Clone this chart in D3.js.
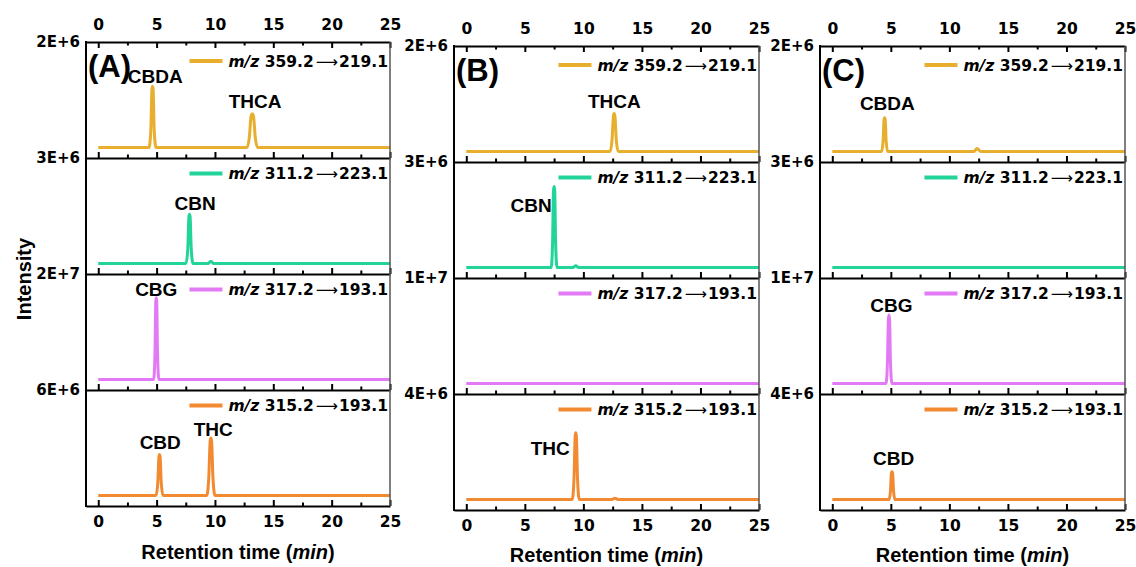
<!DOCTYPE html>
<html>
<head>
<meta charset="utf-8">
<script src="https://cdn.jsdelivr.net/npm/d3@7"></script>
<style>
  body { margin: 0; background: #fff; }
  .tick text { font-family: "DejaVu Sans", sans-serif; font-weight: bold; font-size: 15.5px; fill: #000; }
</style>
</head>
<body>
<div id="plot"></div>
<script>
let width = 1136;
let height = 567;

// x axis values (retention time, min)
const timeTicks = [0, 5, 10, 15, 20, 25];
const minorTicks = [2.5, 7.5, 12.5, 17.5, 22.5];

// MRM transitions, one per row
const precursors = ["359.2", "311.2", "317.2", "315.2"];
const products = ["219.1", "223.1", "193.1", "193.1"];
const rowColors = ["#E8AE2E", "#22D39A", "#E27AF5", "#F28A32"];

// top of each row's intensity range, and the label printed there
const rowMaxA = [2e6, 3e6, 2e7, 6e6];
const rowLabelsA = ["2E+6", "3E+6", "2E+7", "6E+6"];
const rowMaxBC = [2e6, 3e6, 1e7, 4e6];
const rowLabelsBC = ["2E+6", "3E+6", "1E+7", "4E+6"];

// chromatograms: [time (min), intensity]
const traceA1 = [[0, 0], [4.35, 0], [4.5, 0.3e6], [4.6, 1.1e6], [4.65, 1.16e6], [4.7, 1.1e6], [4.8, 0.3e6], [4.95, 0],
  [12.75, 0], [12.95, 0.2e6], [13.1, 0.6e6], [13.2, 0.64e6], [13.3, 0.6e6], [13.45, 0.2e6], [13.65, 0], [25, 0]];
const traceA2 = [[0, 0], [7.52, 0], [7.67, 0.4e6], [7.77, 1.33e6], [7.82, 1.4e6], [7.87, 1.33e6], [7.97, 0.4e6], [8.12, 0],
  [9.4, 0], [9.65, 0.06e6], [9.9, 0], [25, 0]];
const traceA3 = [[0, 0], [4.75, 0], [4.86, 0.5e7], [4.93, 1.48e7], [4.97, 1.55e7], [5.01, 1.48e7], [5.08, 0.5e7], [5.19, 0], [25, 0]];
const traceA4 = [[0, 0], [4.95, 0], [5.1, 0.7e6], [5.2, 2.2e6], [5.25, 2.33e6], [5.3, 2.2e6], [5.4, 0.7e6], [5.55, 0],
  [9.3, 0], [9.47, 1.0e6], [9.59, 3.1e6], [9.65, 3.27e6], [9.71, 3.1e6], [9.83, 1.0e6], [10.0, 0], [25, 0]];

const traceB1 = [[0, 0], [12.28, 0], [12.45, 0.22e6], [12.57, 0.68e6], [12.63, 0.72e6], [12.69, 0.68e6], [12.81, 0.22e6], [12.98, 0], [25, 0]];
const traceB2 = [[0, 0], [7.25, 0], [7.37, 0.7e6], [7.45, 2.2e6], [7.5, 2.3e6], [7.55, 2.2e6], [7.63, 0.7e6], [7.75, 0],
  [9.1, 0], [9.35, 0.05e6], [9.6, 0], [25, 0]];
const traceB3 = [[0, 0], [25, 0]];
const traceB4 = [[0, 0], [9.05, 0], [9.2, 0.8e6], [9.3, 2.4e6], [9.35, 2.53e6], [9.4, 2.4e6], [9.5, 0.8e6], [9.65, 0],
  [12.45, 0], [12.7, 0.05e6], [12.95, 0], [25, 0]];

const traceC1 = [[0, 0], [4.22, 0], [4.34, 0.2e6], [4.42, 0.6e6], [4.47, 0.64e6], [4.52, 0.6e6], [4.6, 0.2e6], [4.72, 0],
  [12.1, 0], [12.37, 0.058e6], [12.65, 0], [25, 0]];
const traceC2 = [[0, 0], [25, 0]];
const traceC3 = [[0, 0], [4.59, 0], [4.71, 2.0e6], [4.79, 6.1e6], [4.84, 6.5e6], [4.89, 6.1e6], [4.97, 2.0e6], [5.09, 0], [25, 0]];
const traceC4 = [[0, 0], [4.85, 0], [4.97, 0.33e6], [5.05, 1.0e6], [5.1, 1.05e6], [5.15, 1.0e6], [5.23, 0.33e6], [5.35, 0], [25, 0]];

// peak names: [row, name, time, intensity, anchor]
const peaksA = [[0, "CBDA", 4.88, 1.22e6, "middle"], [0, "THCA", 13.44, 0.74e6, "middle"],
  [1, "CBN", 8.3, 1.52e6, "middle"], [2, "CBG", 4.97, 1.58e7, "middle"],
  [3, "CBD", 5.31, 2.67e6, "middle"], [3, "THC", 9.85, 3.41e6, "middle"]];
const peaksB = [[0, "THCA", 12.64, 0.83e6, "middle"], [1, "CBN", 7.3, 1.585e6, "end"], [3, "THC", 8.84, 1.69e6, "end"]];
const peaksC = [[0, "CBDA", 4.7, 0.79e6, "middle"], [2, "CBG", 5.05, 6.74e6, "middle"], [3, "CBD", 5.24, 1.31e6, "middle"]];

let svg = d3.select("#plot")
    .append("svg")
    .attr("width", width)
    .attr("height", height);

let rowHeight = 116;

function drawPanel(left, right, top, name, rowMax, rowLabels, traces, peaks) {
    let bottom = top + rowHeight * 4;
    let x = d3.scaleLinear().domain([-1.05, 25]).range([left, right]);

    let line = d3.line()
        .x(d => x(d[0]))
        .curve(d3.curveMonotoneX);

    for (let r = 0; r < 4; r++) {
        let rTop = top + r * rowHeight;
        let rBottom = rTop + rowHeight;
        let y = d3.scaleLinear().domain([-0.1 * rowMax[r], rowMax[r]]).range([rBottom, rTop]);

        // trace
        svg.append("path")
            .datum(traces[r])
            .attr("d", line.y(d => y(d[1])))
            .attr("fill", "none")
            .attr("stroke", rowColors[r])
            .attr("stroke-width", 3)
            .attr("stroke-linejoin", "round");

        // bottom axis of each row, ticks pointing up
        let major = d3.axisBottom(x).tickValues(timeTicks).tickSizeInner(-6).tickSizeOuter(0).tickPadding(10);
        if (r < 3) major.tickFormat("");
        let ax = svg.append("g")
            .attr("transform", "translate(0," + rBottom + ")")
            .call(major);
        ax.select(".domain").attr("stroke-width", 2);
        ax.selectAll(".tick line").attr("stroke-width", 2);

        let minor = svg.append("g")
            .attr("transform", "translate(0," + rBottom + ")")
            .call(d3.axisBottom(x).tickValues(minorTicks).tickSizeInner(-3.5).tickSizeOuter(0).tickFormat(""));
        minor.select(".domain").remove();
        minor.selectAll(".tick line").attr("stroke-width", 2);

        // row top value
        svg.append("text")
            .attr("x", left - 6)
            .attr("y", rTop + 5)
            .attr("text-anchor", "end")
            .style("font-family", "DejaVu Sans, sans-serif")
            .style("font-weight", "bold")
            .style("font-size", "15px")
            .text(rowLabels[r]);

        // legend
        let ly = rTop + (r == 0 ? 19 : 15.5);
        let lt = svg.append("text")
            .attr("x", right - 2)
            .attr("y", ly + 5.5)
            .attr("text-anchor", "end")
            .style("font-family", "DejaVu Sans, sans-serif")
            .style("font-weight", "bold")
            .style("font-size", "15.5px");
        lt.append("tspan").style("font-style", "italic").text("m/z");
        lt.append("tspan").text(" " + precursors[r]);
        lt.append("tspan").style("font-weight", "normal").attr("dx", 2).text("\u27F6");
        lt.append("tspan").attr("dx", 1).text(products[r]);
        let bb = lt.node().getBBox();
        svg.append("line")
            .attr("x1", bb.x - 39)
            .attr("x2", bb.x - 6)
            .attr("y1", ly)
            .attr("y2", ly)
            .attr("stroke", rowColors[r])
            .attr("stroke-width", 4);

        // peak names
        peaks.filter(p => p[0] == r).forEach(p => {
            svg.append("text")
                .attr("x", x(p[2]))
                .attr("y", y(p[3]))
                .attr("text-anchor", p[4])
                .style("font-family", "Liberation Sans, Arial, sans-serif")
                .style("font-weight", "bold")
                .style("font-size", "19px")
                .text(p[1]);
        });
    }

    // top axis, ticks pointing down
    let topAx = svg.append("g")
        .attr("transform", "translate(0," + top + ")")
        .call(d3.axisTop(x).tickValues(timeTicks).tickSizeInner(-6).tickSizeOuter(0).tickPadding(12));
    topAx.select(".domain").attr("stroke-width", 2);
    topAx.selectAll(".tick line").attr("stroke-width", 2);
    let topMinor = svg.append("g")
        .attr("transform", "translate(0," + top + ")")
        .call(d3.axisTop(x).tickValues(minorTicks).tickSizeInner(-3.5).tickSizeOuter(0).tickFormat(""));
    topMinor.select(".domain").remove();
    topMinor.selectAll(".tick line").attr("stroke-width", 2);

    // side borders
    svg.append("line")
        .attr("x1", left).attr("x2", left)
        .attr("y1", top - 1).attr("y2", bottom + 1)
        .attr("stroke", "#000").attr("stroke-width", 2);
    svg.append("line")
        .attr("x1", right).attr("x2", right)
        .attr("y1", top).attr("y2", bottom)
        .attr("stroke", "#555").attr("stroke-width", 1.5);

    // panel letter
    svg.append("text")
        .attr("x", left + 2)
        .attr("y", top + 35)
        .style("font-family", "Liberation Sans, Arial, sans-serif")
        .style("font-weight", "bold")
        .style("font-size", "31px")
        .text(name);

    // x title
    let xt = svg.append("text")
        .attr("x", (left + right) / 2)
        .attr("y", Math.min(bottom + 53, height - 5))
        .attr("text-anchor", "middle")
        .style("font-family", "Liberation Sans, Arial, sans-serif")
        .style("font-weight", "bold")
        .style("font-size", "20px");
    xt.append("tspan").text("Retention time (");
    xt.append("tspan").style("font-style", "italic").text("min");
    xt.append("tspan").text(")");
}

drawPanel(86, 390, 42, "(A)", rowMaxA, rowLabelsA, [traceA1, traceA2, traceA3, traceA4], peaksA);
drawPanel(454, 759, 46, "(B)", rowMaxBC, rowLabelsBC, [traceB1, traceB2, traceB3, traceB4], peaksB);
drawPanel(820, 1125, 46, "(C)", rowMaxBC, rowLabelsBC, [traceC1, traceC2, traceC3, traceC4], peaksC);

// y title
svg.append("text")
    .attr("transform", "translate(31,279) rotate(-90)")
    .attr("text-anchor", "middle")
    .style("font-family", "Liberation Sans, Arial, sans-serif")
    .style("font-weight", "bold")
    .style("font-size", "20px")
    .text("Intensity");
</script>
</body>
</html>
